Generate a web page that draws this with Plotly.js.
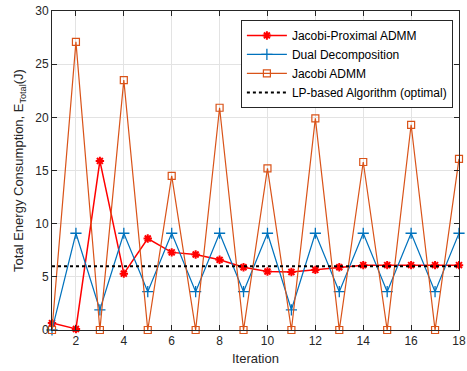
<!DOCTYPE html>
<html>
<head>
<meta charset="utf-8">
<script src="https://cdn.plot.ly/plotly-3.0.1.min.js"></script>
<style>html,body{margin:0;padding:0;background:#fff}#chart{width:467px;height:371px}</style>
</head>
<body>
<div id="chart"></div>
<script>
const iterations = [1,2,3,4,5,6,7,8,9,10,11,12,13,14,15,16,17,18];
const jacobiProximal = [0.65,0.1,15.9,5.3,8.6,7.3,7.1,6.6,5.9,5.5,5.45,5.65,5.9,6.1,6.1,6.1,6.1,6.1];
const dualDecomp = [0,9.1,1.9,9.1,3.6,9.1,3.6,9.1,3.6,9.1,1.9,9.1,3.6,9.1,3.6,9.1,3.6,9.1];
const jacobiADMM = [0,27.1,0,23.5,0,14.5,0,20.9,0,15.2,0,19.9,0,15.8,0,19.3,0,16.1];
const lpOptimal = [6,6,6,6,6,6,6,6,6,6,6,6,6,6,6,6,6,6];
const seriesNames = ["Jacobi-Proximal ADMM","Dual Decomposition","Jacobi ADMM","LP-based Algorithm (optimal)"];
const xTicks = [2,4,6,8,10,12,14,16,18];
const yTicks = [0,5,10,15,20,25,30];

const traces = [
  {x: iterations, y: jacobiProximal, name: seriesNames[0], mode: 'lines+markers', cliponaxis:false,
   line:{color:'#FF0000', width:1.5}, marker:{symbol:'asterisk-open', size:7, color:'#FF0000', line:{color:'#FF0000', width:2}}},
  {x: iterations, y: dualDecomp, name: seriesNames[1], mode: 'lines+markers', cliponaxis:false,
   line:{color:'#0072BD', width:1.2}, marker:{symbol:'cross-thin-open', size:8, color:'#0072BD', line:{color:'#0072BD', width:1.3}}},
  {x: iterations, y: jacobiADMM, name: seriesNames[2], mode: 'lines+markers', cliponaxis:false,
   line:{color:'#D95319', width:1.2}, marker:{symbol:'square-open', size:7, color:'#D95319', line:{color:'#D95319', width:1.2}}},
  {x: iterations, y: lpOptimal, name: seriesNames[3], mode: 'lines', cliponaxis:false,
   line:{color:'#000000', width:2, dash:'dot'}}
];

const axisCommon = {
  showline:true, linecolor:'#262626', linewidth:1, mirror:'ticks', ticks:'inside', ticklen:5,
  tickcolor:'#262626', showgrid:true, gridcolor:'#E3E3E3', gridwidth:1, zeroline:false,
  ticklabeloverflow:'allow',
  tickfont:{family:'Liberation Sans, Arial, sans-serif', size:12, color:'#262626'}
};

const layout = {
  width:467, height:371,
  margin:{l:52, r:8, t:11, b:41},
  paper_bgcolor:'#fff', plot_bgcolor:'#fff',
  showlegend:true,
  xaxis: Object.assign({}, axisCommon, {range:[1,18], tickvals:xTicks,
    title:{text:'Iteration', font:{family:'Liberation Sans, Arial, sans-serif', size:13, color:'#262626'}, standoff:6}}),
  yaxis: Object.assign({}, axisCommon, {range:[0,30], tickvals:yTicks,
    title:{text:'Total Energy Consumption, E<sub>Total</sub>(J)', font:{family:'Liberation Sans, Arial, sans-serif', size:13, color:'#262626'}, standoff:8}}),
  legend:{x:0.985, xanchor:'right', y:0.972, yanchor:'top', bgcolor:'#fff', bordercolor:'#262626', borderwidth:1,
    font:{family:'Liberation Sans, Arial, sans-serif', size:12, color:'#000'}, tracegroupgap:0, itemwidth:40}
};

Plotly.newPlot('chart', traces, layout, {displayModeBar:false, staticPlot:true});
</script>
</body>
</html>
